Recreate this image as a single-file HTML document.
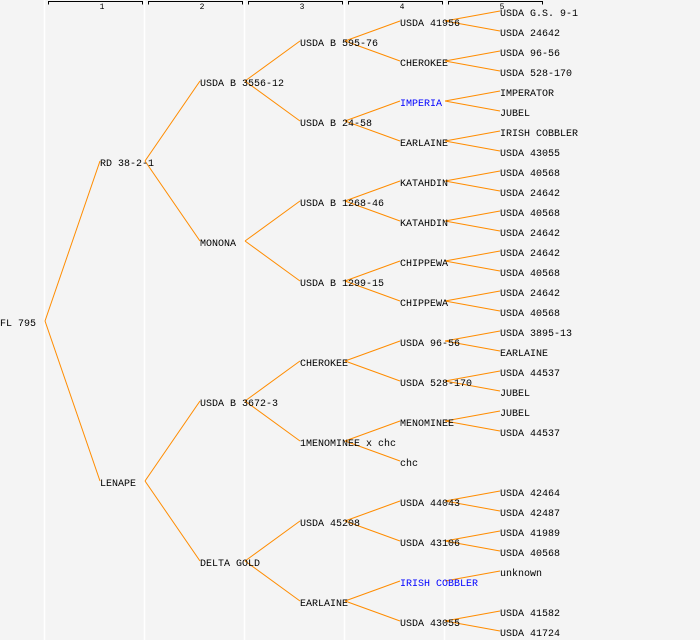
<!DOCTYPE html>
<html><head><meta charset="utf-8"><style>
html,body{margin:0;padding:0;background:#f4f4f4;}
svg{display:block;}
text{font-family:"Liberation Mono","DejaVu Sans Mono",monospace;font-size:10px;fill:#000;}
.b{fill:#0000ff;}
.h{font-size:8px;}
</style></head><body>
<svg width="700" height="640" xmlns="http://www.w3.org/2000/svg">
<rect width="700" height="640" fill="#f4f4f4"/>
<g stroke="#fff" stroke-width="1.5">
<line x1="44.5" y1="0" x2="44.5" y2="640"/><line x1="144.5" y1="0" x2="144.5" y2="640"/>
<line x1="244.5" y1="0" x2="244.5" y2="640"/><line x1="344.5" y1="0" x2="344.5" y2="640"/>
<line x1="444.5" y1="0" x2="444.5" y2="640"/>
</g>
<g stroke="#000" fill="none" stroke-width="1">
<path d="M48.5 4.5V1.5H142.5V4.5"/><path d="M148.5 4.5V1.5H242.5V4.5"/><path d="M248.5 4.5V1.5H342.5V4.5"/><path d="M348.5 4.5V1.5H442.5V4.5"/><path d="M448.5 4.5V1.5H542.5V4.5"/>
</g>
<g class="h" text-anchor="middle">
<text class="h" x="102" y="9">1</text><text class="h" x="202" y="9">2</text><text class="h" x="302" y="9">3</text><text class="h" x="402" y="9">4</text><text class="h" x="502" y="9">5</text>
</g>
<g id="lines" stroke="#ff8c00" stroke-width="1" fill="none"></g>
<g id="texts"></g>
</svg>
<script>
var cols=[
[["FL 795"]],
[["RD 38-2-1"],["LENAPE"]],
[["USDA B 3556-12"],["MONONA"],["USDA B 3672-3"],["DELTA GOLD"]],
[["USDA B 595-76"],["USDA B 24-58"],["USDA B 1268-46"],["USDA B 1299-15"],["CHEROKEE"],["1MENOMINEE x chc"],["USDA 45208"],["EARLAINE"]],
[["USDA 41956"],["CHEROKEE"],["IMPERIA",1],["EARLAINE"],["KATAHDIN"],["KATAHDIN"],["CHIPPEWA"],["CHIPPEWA"],["USDA 96-56"],["USDA 528-170"],["MENOMINEE"],["chc"],["USDA 44043"],["USDA 43106"],["IRISH COBBLER",1],["USDA 43055"]],
[["USDA G.S. 9-1"],["USDA 24642"],["USDA 96-56"],["USDA 528-170"],["IMPERATOR"],["JUBEL"],["IRISH COBBLER"],["USDA 43055"],["USDA 40568"],["USDA 24642"],["USDA 40568"],["USDA 24642"],["USDA 24642"],["USDA 40568"],["USDA 24642"],["USDA 40568"],["USDA 3895-13"],["EARLAINE"],["USDA 44537"],["JUBEL"],["JUBEL"],["USDA 44537"],null,null,["USDA 42464"],["USDA 42487"],["USDA 41989"],["USDA 40568"],["unknown"],null,["USDA 41582"],["USDA 41724"]]
];
var ns="http://www.w3.org/2000/svg",L=document.getElementById("lines"),T=document.getElementById("texts");
function yOf(c,i){var n=Math.pow(2,c);var h=640/n;return h*i+h/2+2;}
for(var c=0;c<cols.length;c++){for(var i=0;i<cols[c].length;i++){var d=cols[c][i];if(!d)continue;var x=c*100,y=yOf(c,i);
var t=document.createElementNS(ns,"text");t.setAttribute("x",x);t.setAttribute("y",y+4);if(d[1])t.setAttribute("class","b");t.textContent=d[0];T.appendChild(t);
if(c>0){var p=Math.floor(i/2);var px=(c-1)*100+45,py=yOf(c-1,p)-1;var l=document.createElementNS(ns,"line");l.setAttribute("x1",px);l.setAttribute("y1",py);l.setAttribute("x2",x);l.setAttribute("y2",y-1);L.appendChild(l);}}}
</script>
</body></html>
